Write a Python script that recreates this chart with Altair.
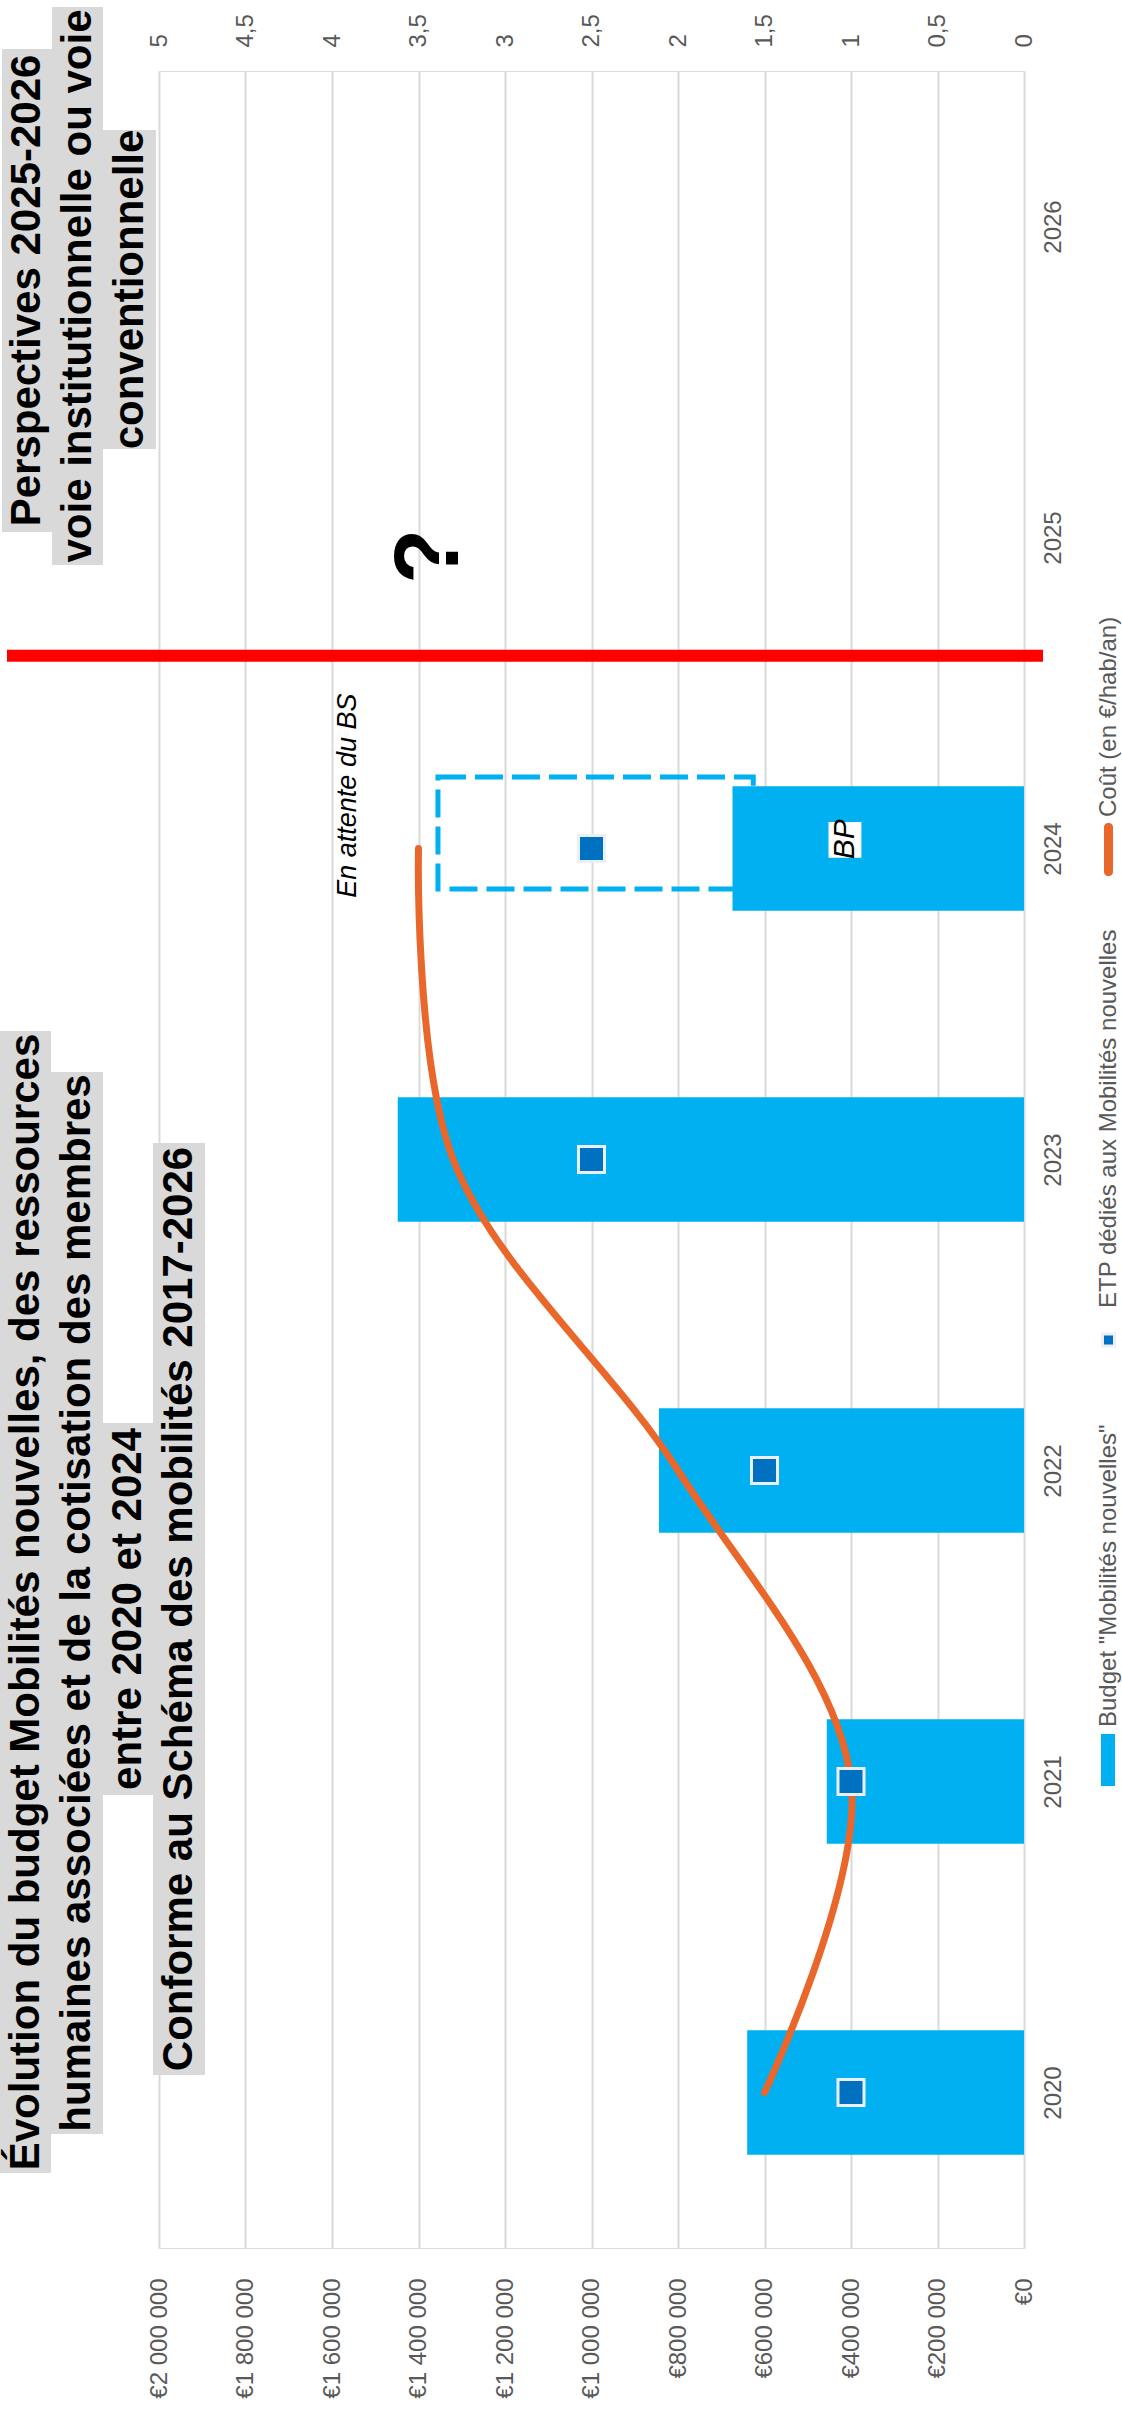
import altair as alt
import pandas as pd

# ---------------- data ----------------
years = [2020, 2021, 2022, 2023, 2024]
budget = [640000, 456000, 844000, 1448000, 674000]      # Budget "Mobilités nouvelles" (€)
etp = [1.0, 1.0, 1.5, 2.5, 2.5]                          # ETP dédiés
cout = [1.5, 1.0, 2.0, 3.3, 3.5]                         # Coût (€/hab/an)

pending_year = [2024]
pending_low = [626000]
pending_high = [1355000]

budget_ticks = [0, 200000, 400000, 600000, 800000, 1000000,
                1200000, 1400000, 1600000, 1800000, 2000000]
cout_ticks = [0, 0.5, 1, 1.5, 2, 2.5, 3, 3.5, 4, 4.5, 5]
year_ticks = [2020, 2021, 2022, 2023, 2024, 2025, 2026]

title_lines = ["Évolution du budget Mobilités nouvelles, des ressources",
               "humaines associées et de la cotisation des membres",
               "entre 2020 et 2024"]
subtitle = "Conforme au Schéma des mobilités 2017-2026"
persp_lines = ["Perspectives 2025-2026",
               "voie institutionnelle ou voie",
               "conventionnelle"]
legend_labels = ['Budget "Mobilités nouvelles"',
                 "ETP dédiés aux Mobilités nouvelles",
                 "Coût (en €/hab/an)"]

# ---------------- layout ----------------
OX, OY = 159, 71
W, H = 865, 2177
FONT = "Liberation Sans"
CYAN = "#00B0F0"
BLUE = "#0070C0"
ORANGE = "#E9672B"
GREY_TXT = "#595959"
BOX = "#D9D9D9"


def px(x):
    return x - OX


def py(y):
    return y - OY


df = pd.DataFrame({"year": years, "budget": budget, "etp": etp, "cout": cout})
pend = pd.DataFrame({"year": pending_year, "low": pending_low, "high": pending_high})
one = pd.DataFrame({"k": [0]})

xb = alt.Scale(domain=[0, 2000000], reverse=True, nice=False, zero=True)
xc = alt.Scale(domain=[0, 5], reverse=True, nice=False, zero=True)
ys = alt.Scale(domain=[2019.5, 2026.5], nice=False, zero=False)

budget_axis = alt.Axis(
    orient="bottom", values=budget_ticks,
    labelExpr="'€' + replace(format(datum.value, ','), regexp(',', 'g'), ' ')",
    labelAngle=270, labelAlign="right", labelBaseline="middle", labelPadding=30,
    labelFontSize=24, labelColor=GREY_TXT, labelFont=FONT,
    labelFlush=False, labelOverlap=False,
    grid=True, gridColor=BOX, gridWidth=2, domain=False, ticks=False, title=None)

cout_axis = alt.Axis(
    orient="top", values=cout_ticks,
    labelExpr="replace(format(datum.value, '~g'), '.', ',')",
    labelAngle=270, labelAlign="left", labelBaseline="middle", labelPadding=24,
    labelFontSize=24, labelColor=GREY_TXT, labelFont=FONT,
    labelFlush=False, labelOverlap=False,
    grid=False, domain=False, ticks=False, title=None)

year_axis = alt.Axis(
    orient="right", values=year_ticks, format="d",
    labelAngle=270, labelAlign="center", labelBaseline="top", labelPadding=17,
    labelFontSize=24, labelColor=GREY_TXT, labelFont=FONT,
    labelFlush=False, labelOverlap=False,
    grid=False, domain=False, ticks=False, title=None)

# ---------------- group A : budget scale ----------------
dashed = alt.Chart(pend).mark_rect(
    fillOpacity=0, stroke=CYAN, strokeWidth=5, strokeDash=[28, 9]
).transform_calculate(y0="datum.year - 0.13", y1="datum.year + 0.23").encode(
    x=alt.X("low:Q", scale=xb, axis=budget_axis),
    x2="high:Q",
    y=alt.Y("y0:Q", scale=ys, axis=year_axis),
    y2="y1:Q",
)

bars = alt.Chart(df).mark_rect(color=CYAN).transform_calculate(
    y0="datum.year - 0.2", y1="datum.year + 0.2"
).encode(
    x=alt.X("budget:Q", scale=xb, axis=budget_axis),
    x2=alt.datum(0),
    y=alt.Y("y0:Q", scale=ys, axis=year_axis),
    y2="y1:Q",
)

bp_box = alt.Chart(one).mark_rect(color="white").encode(
    x=alt.datum(376000), x2=alt.datum(452000),
    y=alt.datum(2023.97), y2=alt.datum(2024.085),
)
bp_txt = alt.Chart(one).mark_text(
    text="BP", angle=270, fontStyle="italic", fontSize=30, font=FONT,
    align="center", baseline="middle", color="black"
).encode(x=alt.datum(414000), y=alt.datum(2024.03))

attente = alt.Chart(one).mark_text(
    text="En attente du BS", angle=270, fontStyle="italic", fontSize=27, font=FONT,
    align="center", baseline="middle", color="black"
).encode(x=alt.datum(1562000), y=alt.datum(2024.17))

question = alt.Chart(one).mark_text(
    text="?", angle=270, fontWeight="bold", fontSize=90, font=FONT,
    align="center", baseline="middle", color="black"
).encode(x=alt.datum(1370000), y=alt.datum(2024.94))

red = alt.Chart(one).mark_rule(color="#FF0000", strokeWidth=12).encode(
    y=alt.datum(2024.62), x=alt.value(px(7)), x2=alt.value(px(1043))
)

groupA = alt.layer(dashed, bars, bp_box, bp_txt, attente, question, red)

# ---------------- group B : secondary scale ----------------
line = alt.Chart(df).mark_line(
    color=ORANGE, strokeWidth=7, interpolate="catmull-rom", strokeCap="round"
).encode(
    x=alt.X("cout:Q", scale=xc, axis=cout_axis),
    y=alt.Y("year:Q", scale=ys, axis=year_axis),
    order="year:Q",
)

pts = alt.Chart(df).mark_point(
    shape="square", filled=True, size=676, fill=BLUE, stroke="#EBEFF8",
    strokeWidth=3, opacity=1
).encode(
    x=alt.X("etp:Q", scale=xc, axis=cout_axis),
    y=alt.Y("year:Q", scale=ys, axis=year_axis),
)

groupB = alt.layer(line, pts)

# ---------------- decorations (titles, legend) ----------------
decor = []


def box(x0, x1, y0, y1, color=BOX, radius=0):
    return alt.Chart(one).mark_rect(color=color, cornerRadius=radius).encode(
        x=alt.value(px(x0)), x2=alt.value(px(x1)),
        y=alt.value(py(y0)), y2=alt.value(py(y1)))


def label(txt, x, y, size=42, weight="bold", align="center", color="black"):
    return alt.Chart(one).mark_text(
        text=txt, angle=270, fontSize=size, fontWeight=weight, font=FONT,
        align=align, baseline="middle", color=color
    ).encode(x=alt.value(px(x)), y=alt.value(py(y)))


# title block 1
t_boxes = [(0, 51, 1031, 2173), (51, 103, 1072, 2134), (103, 153, 1423, 1795)]
for (x0, x1, y0, y1), txt in zip(t_boxes, title_lines):
    decor.append(box(x0, x1, y0, y1))
for (x0, x1, y0, y1), txt in zip(t_boxes, title_lines):
    decor.append(label(txt, (x0 + x1) / 2, (y0 + y1) / 2))
decor.append(box(153, 205, 1143, 2075))
decor.append(label(subtitle, 179, 1609))

# title block 2
p_boxes = [(2, 52, 49, 532), (52, 103, 7, 565), (103, 156, 130, 449)]
for (x0, x1, y0, y1), txt in zip(p_boxes, persp_lines):
    decor.append(box(x0, x1, y0, y1))
for (x0, x1, y0, y1), txt in zip(p_boxes, persp_lines):
    decor.append(label(txt, (x0 + x1) / 2, (y0 + y1) / 2))

# legend (right side)
decor.append(box(1101, 1115, 1734, 1786, color=CYAN))
decor.append(label(legend_labels[0], 1108.7, 1727, size=24, weight="normal",
                   align="left", color=GREY_TXT))
decor.append(alt.Chart(one).mark_point(
    shape="square", filled=True, size=144, fill=BLUE, stroke="#EBEFF8",
    strokeWidth=3, opacity=1).encode(x=alt.value(px(1108.5)), y=alt.value(py(1340))))
decor.append(label(legend_labels[1], 1108.7, 1308, size=24, weight="normal",
                   align="left", color=GREY_TXT))
decor.append(box(1104, 1113, 823, 876, color=ORANGE, radius=4))
decor.append(label(legend_labels[2], 1108.7, 817, size=24, weight="normal",
                   align="left", color=GREY_TXT))

chart = alt.layer(groupA, groupB, *decor).resolve_scale(x="independent").properties(
    width=W, height=H,
    autosize=alt.AutoSizeParams(type="none"),
    padding={"left": OX, "top": OY, "right": 1122 - OX - W, "bottom": 2415 - OY - H},
    background="white",
).configure_view(strokeWidth=0).configure(font=FONT)

chart.save("out.html", embed_options={"renderer": "svg", "actions": False})
